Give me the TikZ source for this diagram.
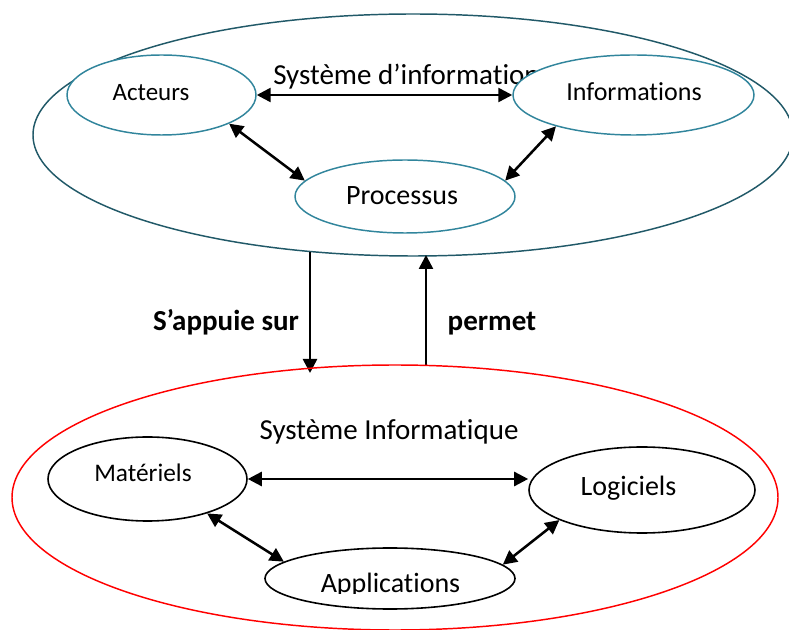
\documentclass[tikz,border=0pt]{standalone}
\usepackage{fontspec}
\setmainfont[RawFeature={-liga;-clig;-dlig;-calt}]{Carlito}
\usetikzlibrary{shapes.geometric,arrows.meta}
\definecolor{tealdark}{RGB}{33,89,104}
\definecolor{tealmid}{RGB}{49,133,156}
\begin{document}
\begin{tikzpicture}[x=0.75pt,y=-0.75pt,
  ell/.style={shape=ellipse,inner sep=0pt,fill=white},
  tealell/.style={ell,draw=tealmid,line width=1.1pt},
  blackell/.style={ell,draw=black,line width=1.2pt},
  lbl/.style={anchor=base,inner sep=0pt,font=\fontsize{#1}{#1}\selectfont},
  dbl/.style={line width=1.9pt,{Triangle[length=10.5pt,width=10.5pt]}-{Triangle[length=10.5pt,width=10.5pt]}},
  sgl/.style={line width=1.9pt,-{Triangle[length=10.5pt,width=10.5pt]}}]
\useasboundingbox (0,0) rectangle (789,630);
% top system
\node[ell,draw=tealdark,line width=1.1pt,fill=none,minimum width=570pt,minimum height=181.5pt] (si) at (413,135) {};
\node[lbl=21.75pt,anchor=base west] (sititle) at (273,85) {Système d’information};
\node[tealell,minimum width=141.75pt,minimum height=60pt] (act) at (161.5,95) {};
\node[tealell,minimum width=165pt,minimum height=54.75pt] (proc) at (405,196.5) {};
\node[tealell,minimum width=180.75pt,minimum height=60pt] (inf) at (633.5,95) {};
\node[lbl=18.75pt] (actl) at (151,100.5) {Acteurs};
\node[lbl=19.5pt] (infl) at (634,101) {Informations};
\node[lbl=21pt] (procl) at (402,205) {Processus};
\draw[dbl] (act.east) -- (inf.west);
\draw[dbl] (act.-23) -- (proc.171.5);
\draw[dbl] (inf.-158.4) -- (proc.9);
% middle arrows
\coordinate (dtop) at (310,252);
\coordinate (dbot) at (310,373);
\coordinate (ubot) at (426,366);
\coordinate (utop) at (426,255);
\draw[sgl] (dtop) -- (dbot);
\draw[sgl] (ubot) -- (utop);
\node[lbl=21.75pt,font=\fontsize{21.75pt}{21.75pt}\selectfont\bfseries] (appui) at (226,331) {S’appuie sur};
\node[lbl=21.75pt,font=\fontsize{21.75pt}{21.75pt}\selectfont\bfseries] (perm) at (492,331) {permet};
% bottom system
\node[ell,draw=red,line width=1.1pt,fill=none,minimum width=574.5pt,minimum height=198.75pt] (sinf) at (395,497.5) {};
\node[lbl=21.75pt] (sinft) at (389,440) {Système Informatique};
\node[blackell,minimum width=149.25pt,minimum height=63pt] (mat) at (147.5,479) {};
\node[blackell,minimum width=169.5pt,minimum height=64.5pt] (log) at (642,490) {};
\node[blackell,minimum width=187.5pt,minimum height=45.75pt] (app) at (390,578.5) {};
\node[lbl=19pt] (matl) at (143,482) {Matériels};
\node[lbl=21pt] (logl) at (628.5,496) {Logiciels};
\begin{scope}
\clip (0,0) rectangle (789,593);
\node[lbl=21pt] (appl) at (390.5,592) {Applications};
\end{scope}
\draw[dbl] (mat.east) -- (log.west |- mat.east);
\draw[dbl] (mat.-30.5) -- (app.171.5);
\draw[dbl] (log.-160.2) -- (app.7.4);
\end{tikzpicture}
\end{document}
